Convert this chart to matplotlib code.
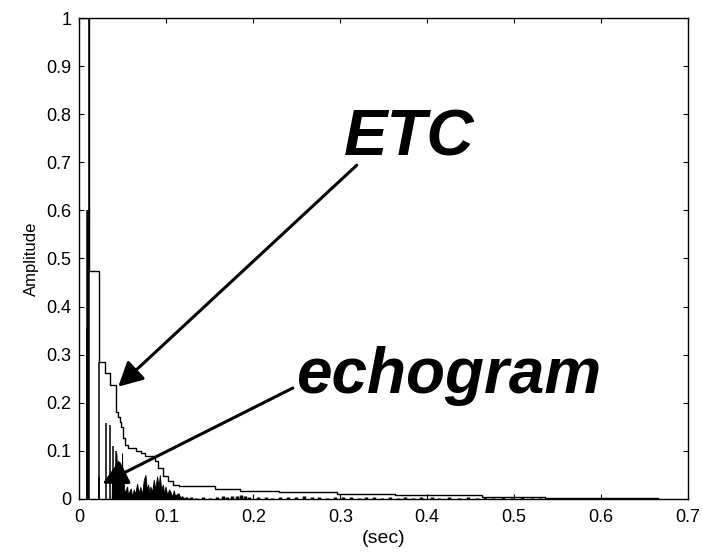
import matplotlib
matplotlib.use("Agg")
import matplotlib.pyplot as plt

plt.rcParams['font.family'] = ['Liberation Sans', 'DejaVu Sans']

# ETC (energy time curve), stepwise decay
etc_t = [0, 0.0115, 0.0224, 0.0290, 0.0356, 0.0425, 0.0443, 0.0462, 0.0481, 0.0500,
         0.0520, 0.0558, 0.0653, 0.0711, 0.0750, 0.0864, 0.0903, 0.0960, 0.1018, 0.1075,
         0.1150, 0.156, 0.185, 0.229, 0.296, 0.363, 0.463, 0.536, 0.665]
etc_v = [1.0, 0.473, 0.2855, 0.2626, 0.237, 0.181, 0.171, 0.161, 0.150, 0.126,
         0.112, 0.105, 0.100, 0.095, 0.090, 0.078, 0.064, 0.047, 0.037, 0.030,
         0.0264, 0.0218, 0.0175, 0.0139, 0.0104, 0.0076, 0.0048, 0.003, 0.003]

# echogram: isolated early reflections
spike_t = [0.0088, 0.0092, 0.0097, 0.0102, 0.0108, 0.0221, 0.0228, 0.0303, 0.0353, 0.0383, 0.0425]
spike_a = [0.355, 0.60, 0.60, 0.58, 1.0, 0.285, 0.045, 0.157, 0.154, 0.11, 0.10]

# echogram: dense reflection cluster (peaks and valleys)
echo_t = [0.0370, 0.0376, 0.0385, 0.0395, 0.0405, 0.0415, 0.0425, 0.0435, 0.0445, 0.0455,
          0.0465, 0.0475, 0.0485, 0.0490, 0.0495, 0.0505, 0.0512, 0.0520, 0.0535, 0.0548,
          0.0560, 0.0575, 0.0590, 0.0605, 0.0625, 0.0640, 0.0663, 0.0680, 0.0700, 0.0720,
          0.0740, 0.0759, 0.0775, 0.0790, 0.0805, 0.0816, 0.0835, 0.0855, 0.0870, 0.0893,
          0.0910, 0.0924, 0.0940, 0.0960, 0.0975, 0.0989, 0.1010, 0.1030, 0.1046, 0.1065,
          0.1085, 0.1100, 0.1120, 0.1140, 0.1160, 0.1180, 0.1200, 0.1230, 0.1260]
echo_a = [0.0, 0.06, 0.03, 0.055, 0.03, 0.07, 0.095, 0.05, 0.08, 0.04,
          0.06, 0.03, 0.045, 0.095, 0.04, 0.054, 0.025, 0.012, 0.02, 0.026,
          0.008, 0.016, 0.022, 0.006, 0.02, 0.01, 0.032, 0.012, 0.025, 0.01,
          0.04, 0.05, 0.02, 0.03, 0.012, 0.026, 0.015, 0.04, 0.02, 0.047,
          0.025, 0.05, 0.02, 0.03, 0.01, 0.026, 0.008, 0.02, 0.015, 0.005,
          0.018, 0.006, 0.01, 0.012, 0.003, 0.006, 0.002, 0.004, 0.0]

# echogram: low-level tail
tail_t = [0.128, 0.134, 0.142, 0.150, 0.158, 0.165, 0.170, 0.176, 0.181, 0.186,
          0.190, 0.195, 0.205, 0.214, 0.222, 0.231, 0.240, 0.249, 0.258, 0.267,
          0.276, 0.285, 0.294, 0.303, 0.312, 0.321, 0.330, 0.339, 0.348, 0.357,
          0.366, 0.375, 0.384, 0.393, 0.405, 0.414, 0.425, 0.436, 0.447, 0.457,
          0.466, 0.476, 0.487, 0.498, 0.509, 0.520, 0.530, 0.641, 0.649, 0.657, 0.663]
tail_a = [0.004, 0.003, 0.005, 0.003, 0.004, 0.006, 0.005, 0.007, 0.006, 0.008,
          0.006, 0.005, 0.004, 0.005, 0.003, 0.004, 0.005, 0.004, 0.006, 0.005,
          0.004, 0.003, 0.004, 0.005, 0.004, 0.003, 0.004, 0.004, 0.003, 0.004,
          0.003, 0.004, 0.003, 0.004, 0.005, 0.003, 0.004, 0.003, 0.004, 0.003,
          0.004, 0.003, 0.004, 0.003, 0.004, 0.003, 0.003, 0.003, 0.003, 0.003, 0.003]

xticks = [0, 0.1, 0.2, 0.3, 0.4, 0.5, 0.6, 0.7]
xticklabels = ['0', '0.1', '0.2', '0.3', '0.4', '0.5', '0.6', '0.7']
yticks = [0, 0.1, 0.2, 0.3, 0.4, 0.5, 0.6, 0.7, 0.8, 0.9, 1]
yticklabels = ['0', '0.1', '0.2', '0.3', '0.4', '0.5', '0.6', '0.7', '0.8', '0.9', '1']

fig = plt.figure(figsize=(7.02, 5.54), dpi=100)
ax = fig.add_axes([0.1132, 0.0993, 0.8669, 0.8682])

ax.step(etc_t, etc_v, where='post', color='k', lw=1.0)
ax.vlines(spike_t, 0, spike_a, color='k', lw=1.1)
ax.fill_between(echo_t, echo_a, 0, color='k', lw=0.6)
ax.vlines(tail_t, 0, tail_a, color='k', lw=2.5)

ax.set_xlim(0, 0.7)
ax.set_ylim(0, 1)
ax.set_xticks(xticks)
ax.set_xticklabels(xticklabels)
ax.set_yticks(yticks)
ax.set_yticklabels(yticklabels)
ax.tick_params(direction='in', length=3.6, width=0.8, top=True, right=True, labelsize=13)
ax.tick_params(axis='x', pad=7)
ax.tick_params(axis='y', pad=6)
for s in ax.spines.values():
    s.set_linewidth(1.0)

ax.set_xlabel('(sec)', fontsize=14, labelpad=3)
ax.set_ylabel('Amplitude', fontsize=12, labelpad=5)

ax.text(0.304, 0.715, 'ETC', fontsize=47, fontweight='bold', fontstyle='italic',
        ha='left', va='baseline')
ax.text(0.249, 0.2204, 'echogram', fontsize=46, fontweight='bold', fontstyle='italic',
        ha='left', va='baseline')

arrow = dict(arrowstyle='-|>,head_length=0.4,head_width=0.21', mutation_scale=37,
             color='k', lw=2.2, shrinkA=0, shrinkB=0)
ax.annotate('', xy=(0.0446, 0.2335), xytext=(0.319, 0.694), arrowprops=arrow)
ax.annotate('', xy=(0.0267, 0.032), xytext=(0.2455, 0.2308), arrowprops=arrow)

fig.savefig('out.png', dpi=100)
